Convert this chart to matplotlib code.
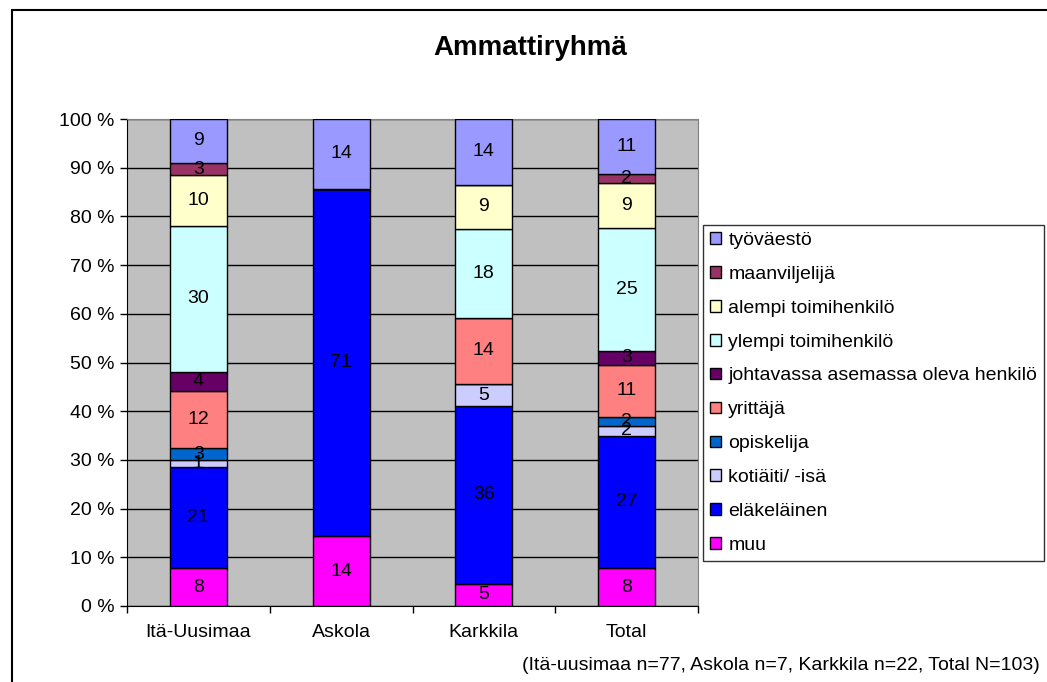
import numpy as np
import matplotlib.pyplot as plt
from matplotlib.patches import Rectangle

plt.rcParams['font.family'] = ['Liberation Sans', 'DejaVu Sans']

# Categories and series (percent of respondents, bottom to top)
areas = ['Itä-Uusimaa', 'Askola', 'Karkkila', 'Total']
groups = ['muu', 'eläkeläinen', 'kotiäiti/ -isä', 'opiskelija', 'yrittäjä',
          'johtavassa asemassa oleva henkilö', 'ylempi toimihenkilö',
          'alempi toimihenkilö', 'maanviljelijä', 'työväestö']

muu = [7.8, 14.3, 4.6, 7.8]
elakelainen = [20.8, 71.4, 36.4, 27.2]
kotiaiti = [1.3, 0.0, 4.6, 1.9]
opiskelija = [2.6, 0.0, 0.0, 1.9]
yrittaja = [11.7, 0.0, 13.6, 10.7]
johtavassa = [3.9, 0.0, 0.0, 2.9]
ylempi = [29.9, 0.0, 18.2, 25.2]
alempi = [10.4, 0.0, 9.1, 9.3]
maanviljelija = [2.6, 0.0, 0.0, 1.9]
tyovaesto = [9.0, 14.3, 13.5, 11.2]

series = [muu, elakelainen, kotiaiti, opiskelija, yrittaja, johtavassa,
          ylempi, alempi, maanviljelija, tyovaesto]
colors = ['#FF00FF', '#0000FF', '#CCCCFF', '#0066CC', '#FF8080',
          '#660066', '#CCFFFF', '#FFFFCC', '#993366', '#9999FF']

footnote = '(Itä-uusimaa n=77, Askola n=7, Karkkila n=22, Total N=103)'

fs = 14

fig = plt.figure(figsize=(10.47, 6.82), dpi=100)
fig.patches.append(Rectangle((12 / 1047, -0.05), 1.1, (672 / 682) + 0.05,
                             transform=fig.transFigure, fill=False,
                             edgecolor='black', linewidth=1.5))

ax = fig.add_axes([127 / 1047, 76 / 682, 571 / 1047, 487 / 682])
ax.set_facecolor('#C0C0C0')

x = np.arange(len(areas))
bottom = np.zeros(len(areas))
handles = []
for name, vals, col in zip(groups, series, colors):
    vals = np.array(vals)
    bars = ax.bar(x, vals, 0.4, bottom=bottom, color=col, edgecolor='black',
                  linewidth=1, label=name, zorder=3)
    labels = ['%d' % int(round(v)) if v > 0 else '' for v in vals]
    ax.bar_label(bars, labels=labels, label_type='center', fontsize=fs,
                 color='black', zorder=4)
    handles.append(bars)
    bottom += vals

ax.set_xlim(-0.5, len(areas) - 0.5)
ax.set_ylim(0, 100)
ax.set_yticks(np.arange(0, 101, 10))
ax.set_yticklabels(['%d %%' % v for v in range(0, 101, 10)], fontsize=fs)
ax.yaxis.grid(True, color='black', linewidth=1, zorder=0)
ax.set_axisbelow(True)

ax.set_xticks(x)
ax.set_xticklabels(areas, fontsize=fs)
ax.tick_params(axis='x', length=0, pad=13)
ax.set_xticks(np.arange(-0.5, len(areas)), minor=True)
ax.tick_params(axis='x', which='minor', length=5, width=1, direction='out')
ax.tick_params(axis='y', length=5, width=1, direction='out', pad=4)

for side in ['top', 'right']:
    ax.spines[side].set_color('#808080')
ax.spines['left'].set_color('black')
ax.spines['bottom'].set_color('black')

fig.text(530 / 1047, 1 - 48 / 682, 'Ammattiryhmä', ha='center', va='center',
         fontsize=20, fontweight='bold')

leg = fig.legend(handles[::-1], groups[::-1], loc='upper left',
                 bbox_to_anchor=(703 / 1047, 1 - 225 / 682), fontsize=fs,
                 frameon=True, fancybox=False, edgecolor='black',
                 handlelength=0.55, handleheight=0.55, handletextpad=0.4,
                 labelspacing=0.87, borderpad=0.35, borderaxespad=0)
leg.get_frame().set_linewidth(1)

fig.text(1040 / 1047, 1 - 666 / 682, footnote, ha='right', va='center',
         fontsize=fs)

fig.savefig('out.png', dpi=100)
